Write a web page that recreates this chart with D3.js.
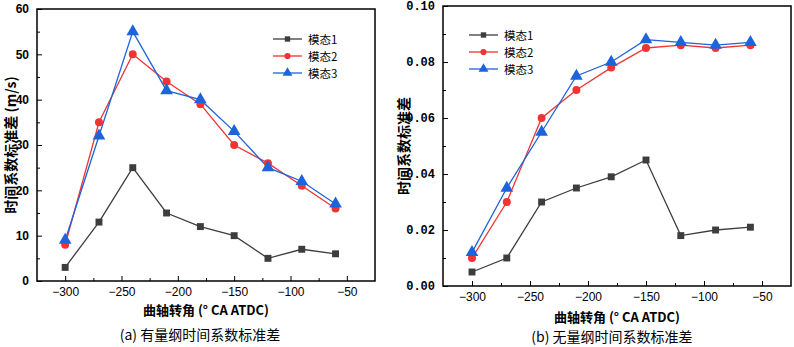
<!DOCTYPE html>
<html>
<head>
<meta charset="utf-8">
<script src="https://cdn.jsdelivr.net/npm/d3@7"></script>
<style>
body { margin: 0; background: #fff; }
svg { display: block; }
</style>
</head>
<body>
<svg id="chart" width="794" height="347"></svg>
<script>
// crank angle positions (° CA ATDC)
const angles = [-300, -270, -240, -210, -180, -150, -120, -90, -60];
const seriesNames = ["模态1", "模态2", "模态3"];

// (a) dimensional std
const dimMode1 = [3, 13, 25, 15, 12, 10, 5, 7, 6];
const dimMode2 = [8, 35, 50, 44, 39, 30, 26, 21, 16];
const dimMode3 = [9, 32, 55, 42, 40, 33, 25, 22, 17];

// (b) dimensionless std
const ndMode1 = [0.005, 0.010, 0.030, 0.035, 0.039, 0.045, 0.018, 0.020, 0.021];
const ndMode2 = [0.010, 0.030, 0.060, 0.070, 0.078, 0.085, 0.086, 0.085, 0.086];
const ndMode3 = [0.012, 0.035, 0.055, 0.075, 0.080, 0.088, 0.087, 0.086, 0.087];

const xTicks = [-300, -250, -200, -150, -100, -50];
const xMinor = [-275, -225, -175, -125, -75];
const dimTicks = [0, 10, 20, 30, 40, 50, 60];
const dimMinor = [5, 15, 25, 35, 45, 55];
const ndTicks = [0, 0.02, 0.04, 0.06, 0.08, 0.10];
const ndMinor = [0.01, 0.03, 0.05, 0.07, 0.09];

const colors = ["#3d3d3d", "#f03434", "#1c64dc"];
const shapes = [d3.symbolSquare, d3.symbolCircle, d3.symbolTriangle];
const sizes = [48, 50, 70];

const svg = d3.select("#chart");

function drawPanel(p) {
    var g = svg.append("g");

    const x = d3.scaleLinear().domain([-325, -25]).range([p.left, p.right]);
    const y = d3.scaleLinear().domain(p.yDomain).range([p.bottom, p.top]);

    // frame
    g.append("rect")
    .attr("x", p.left)
    .attr("y", p.top)
    .attr("width", p.right - p.left)
    .attr("height", p.bottom - p.top)
    .style("fill", "none")
    .style("stroke", "#000")
    .style("stroke-width", 1.5);

    // x axis (ticks inward)
    var xAxis = g.append("g")
    .attr("transform", "translate(0," + p.bottom + ")")
    .call(d3.axisBottom(x).tickValues(xTicks).tickSize(-5).tickPadding(6).tickFormat(d3.format("d")));
    xAxis.select(".domain").remove();
    xAxis.selectAll("text")
    .attr("font-family", "Liberation Sans, Arial, sans-serif")
    .attr("font-size", "12px")
    .attr("fill", "#000")
    .text(d => String(d).replace("-", "\u2212"));
    g.append("g")
    .attr("transform", "translate(0," + p.bottom + ")")
    .call(d3.axisBottom(x).tickValues(xMinor).tickSize(-3).tickFormat(""))
    .select(".domain").remove();

    // y axis
    var yAxis = g.append("g")
    .attr("transform", "translate(" + p.left + ",0)")
    .call(d3.axisLeft(y).tickValues(p.yTicks).tickSize(-5).tickPadding(p.yPad).tickFormat(p.yFormat));
    yAxis.select(".domain").remove();
    yAxis.selectAll("text")
    .attr("font-family", p.yFont)
    .attr("font-size", "12px")
    .attr("font-weight", "bold")
    .attr("fill", "#000");
    g.append("g")
    .attr("transform", "translate(" + p.left + ",0)")
    .call(d3.axisLeft(y).tickValues(p.yMinor).tickSize(-3).tickFormat(""))
    .select(".domain").remove();
    g.selectAll(".tick line").style("stroke", "#000");

    // series
    const line = d3.line()
    .x((d, i) => x(angles[i]))
    .y(d => y(d));

    p.series.forEach(function(vals, k){
        g.append("path")
        .datum(vals)
        .attr("d", line)
        .style("fill", "none")
        .style("stroke", colors[k])
        .style("stroke-width", 1.3);
    });
    p.series.forEach(function(vals, k){
        g.selectAll(".pt" + k)
        .data(vals)
        .enter().append("path")
        .attr("transform", (d, i) => "translate(" + x(angles[i]) + "," + y(d) + ")")
        .attr("d", d3.symbol().type(shapes[k]).size(sizes[k]))
        .style("fill", colors[k]);
    });

    // legend
    var leg = g.selectAll(".leg")
        .data(seriesNames)
        .enter().append("g")
        .attr("transform", (d, i) => "translate(" + p.legX + "," + (p.legY + i * 17) + ")");
    leg.append("line")
    .attr("x1", 0)
    .attr("x2", 29)
    .style("stroke", (d, i) => colors[i])
    .style("stroke-width", 1.3);
    leg.append("path")
    .attr("transform", "translate(14.5,0)")
    .attr("d", (d, i) => d3.symbol().type(shapes[i]).size(sizes[i] * 0.6)())
    .style("fill", (d, i) => colors[i]);
    leg.append("text")
    .attr("x", 35)
    .attr("y", 4.5)
    .attr("font-family", "Noto Sans CJK SC, sans-serif")
    .attr("font-size", "11.5px")
    .attr("fill", "#000")
    .text(d => d);

    // axis titles
    g.append("text")
    .attr("x", (p.left + p.right) / 2)
    .attr("y", p.xTitleY)
    .attr("text-anchor", "middle")
    .attr("font-family", "Noto Sans CJK SC, sans-serif")
    .attr("font-size", "13px")
    .attr("font-weight", "bold")
    .text("曲轴转角 (° CA ATDC)");
    g.append("text")
    .attr("transform", "translate(" + p.yTitleX + "," + ((p.top + p.bottom) / 2) + ") rotate(-90)")
    .attr("text-anchor", "middle")
    .attr("font-family", "Noto Sans CJK SC, sans-serif")
    .attr("font-size", "14px")
    .attr("font-weight", "bold")
    .text(p.yTitle);

    // caption
    g.append("text")
    .attr("x", p.capX)
    .attr("y", p.capY)
    .attr("text-anchor", "middle")
    .attr("font-family", "Noto Sans CJK SC, sans-serif")
    .attr("font-size", "14px")
    .text(p.caption);
}

drawPanel({
    left: 37, right: 375, top: 9, bottom: 281,
    yDomain: [0, 60], yTicks: dimTicks, yMinor: dimMinor,
    yFormat: d3.format("d"), yPad: 8, yFont: "Liberation Sans, Arial, sans-serif",
    series: [dimMode1, dimMode2, dimMode3],
    legX: 273, legY: 39,
    xTitleY: 315, yTitleX: 16, yTitle: "时间系数标准差 (m/s)",
    capX: 200, capY: 340, caption: "(a) 有量纲时间系数标准差"
});

drawPanel({
    left: 443, right: 791, top: 6, bottom: 286,
    yDomain: [0, 0.1], yTicks: ndTicks, yMinor: ndMinor,
    yFormat: d3.format(".2f"), yPad: 8, yFont: "Liberation Mono, DejaVu Sans Mono, monospace",
    series: [ndMode1, ndMode2, ndMode3],
    legX: 469, legY: 35,
    xTitleY: 322, yTitleX: 409, yTitle: "时间系数标准差",
    capX: 612, capY: 342, caption: "(b) 无量纲时间系数标准差"
});
</script>
</body>
</html>
